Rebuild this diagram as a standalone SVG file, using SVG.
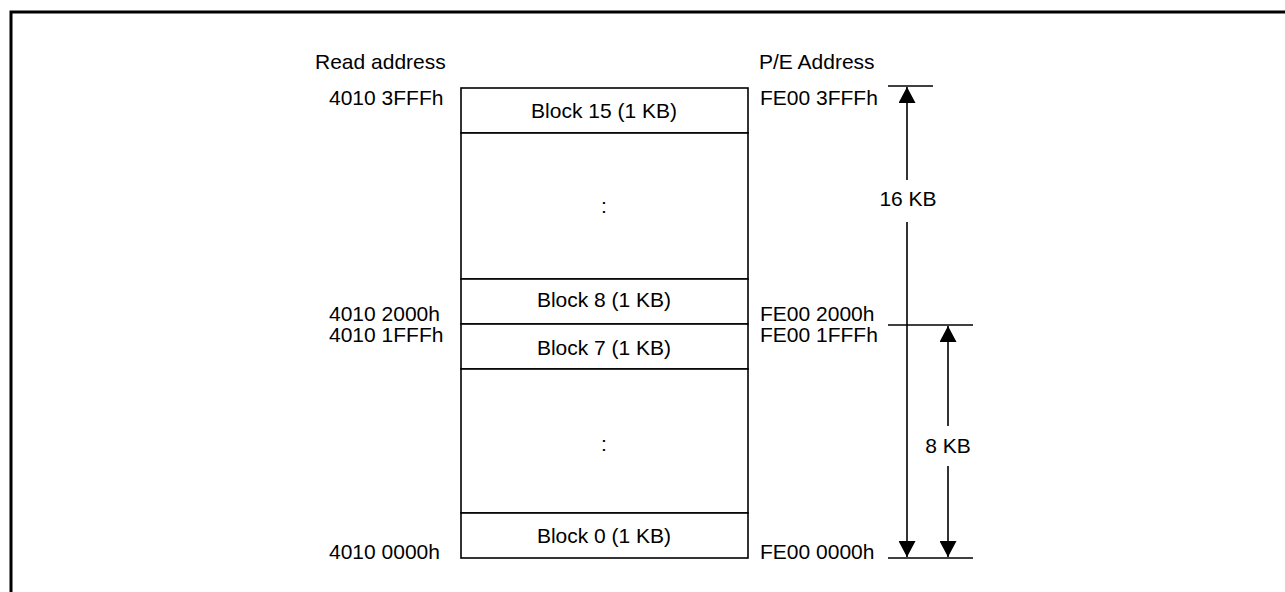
<svg xmlns="http://www.w3.org/2000/svg" width="1285" height="592" viewBox="0 0 1285 592">
<defs>
<style>
text{font-family:"Liberation Sans",Arial,sans-serif;font-size:21px;fill:#000}
.c{text-anchor:middle}
.blk{fill:#fff;stroke:#000;stroke-width:1.6}
.ln{stroke:#000;stroke-width:1.6;fill:none}
</style>
<marker id="ah" viewBox="0 0 16 17" refX="16" refY="8.5" markerWidth="16" markerHeight="17" markerUnits="userSpaceOnUse" orient="auto">
<path d="M0,0 L16,8.5 L0,17 Z" fill="#000"/>
</marker>
</defs>
<rect width="1285" height="592" fill="#fff"/>
<path d="M11,600 V12 H1300" fill="none" stroke="#000" stroke-width="3"/>
<text id="read-hdr" x="315" y="69">Read address</text>
<text id="pe-hdr" x="759" y="69">P/E Address</text>
<g id="block15"><rect class="blk" x="461" y="88" width="287" height="45"/><text x="604" y="118" class="c">Block 15 (1 KB)</text></g>
<g id="blocks-upper"><rect class="blk" x="461" y="133" width="287" height="146"/><text x="604" y="213" class="c">:</text></g>
<g id="block8"><rect class="blk" x="461" y="279" width="287" height="45"/><text x="604" y="307" class="c">Block 8 (1 KB)</text></g>
<g id="block7"><rect class="blk" x="461" y="324" width="287" height="45"/><text x="604" y="355" class="c">Block 7 (1 KB)</text></g>
<g id="blocks-lower"><rect class="blk" x="461" y="369" width="287" height="144"/><text x="604" y="451" class="c">:</text></g>
<g id="block0"><rect class="blk" x="461" y="513" width="287" height="45"/><text x="604" y="543" class="c">Block 0 (1 KB)</text></g>
<g id="read-addrs">
<text x="329" y="105">4010 3FFFh</text>
<text x="329" y="321">4010 2000h</text>
<text x="329" y="342">4010 1FFFh</text>
<text x="329" y="559">4010 0000h</text>
</g>
<g id="pe-addrs">
<text x="760" y="105">FE00 3FFFh</text>
<text x="760" y="321">FE00 2000h</text>
<text x="760" y="342">FE00 1FFFh</text>
<text x="760" y="559">FE00 0000h</text>
</g>
<g id="connectors">
<line class="ln" x1="888" y1="86" x2="933" y2="86"/>
<line class="ln" x1="888" y1="325" x2="973" y2="325"/>
<line class="ln" x1="888" y1="558" x2="973" y2="558"/>
<line class="ln" x1="907" y1="180" x2="907" y2="87" marker-end="url(#ah)"/>
<line class="ln" x1="907" y1="222" x2="907" y2="557" marker-end="url(#ah)"/>
<line class="ln" x1="948" y1="426" x2="948" y2="326" marker-end="url(#ah)"/>
<line class="ln" x1="948" y1="466" x2="948" y2="557" marker-end="url(#ah)"/>
</g>
<text id="size16" x="908" y="206" class="c">16 KB</text>
<text id="size8" x="948" y="453" class="c">8 KB</text>
</svg>
